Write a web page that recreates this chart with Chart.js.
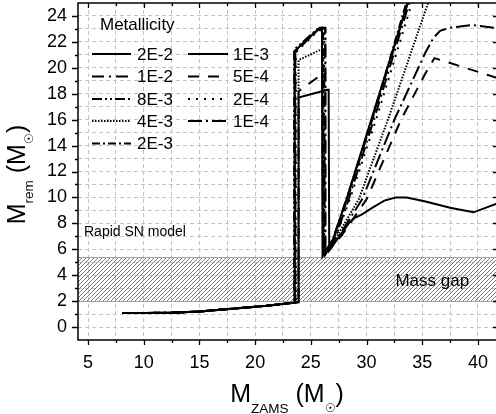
<!DOCTYPE html>
<html>
<head>
<meta charset="utf-8">
<style>
  html, body { margin: 0; padding: 0; background: #fff; overflow: hidden; }
  #wrap { width: 496px; height: 414px; overflow: hidden; }
</style>
</head>
<body>
<div id="wrap"><canvas id="remChart" width="500" height="414"></canvas></div>
<script src="https://cdn.jsdelivr.net/npm/chart.js"></script>
<script>
// Remnant mass vs ZAMS mass for several metallicities (rapid SN model)

const FONT = '"Liberation Sans", Arial, Helvetica, sans-serif';

// low-mass branch, shared by every metallicity
const lowMz = [8.1, 12.5, 15, 18, 21, 23.5];
const lowMr = [1.08, 1.1, 1.2, 1.42, 1.64, 1.88];

const z2e2Mz = [...lowMz, 23.9, 23.9, 26.5, 26.6, 26.65, 27.4, 28.4, 28.9, 29.6, 30.5, 31.6, 32.6, 33.6, 35.2, 37.5, 39.6, 41.8];
const z2e2Mr = [...lowMr, 1.9, 17.7, 18.3, 18.3, 5.9, 6.8, 8.0, 8.4, 8.7, 9.2, 9.75, 10.0, 10.0, 9.7, 9.2, 8.85, 9.55];

const z1e2Mz = [...lowMz, 23.6, 23.6, 25.7, 26.3, 26.3, 27.2, 28.4, 30.8, 33.9, 34.3];
const z1e2Mr = [...lowMr, 1.9, 21.2, 23.0, 23.05, 5.6, 6.9, 9.85, 16.4, 25.2, 26.3];

const z8e3Mz = [...lowMz, 23.5, 23.5, 25.6, 26.0, 26.1, 27.0, 28.2, 30.7, 33.8, 34.2];
const z8e3Mr = [...lowMr, 1.88, 21.4, 23.0, 23.0, 5.5, 6.8, 9.9, 16.5, 25.3, 26.4];

const z4e3Mz = [...lowMz, 23.9, 23.9, 25.9, 26.0, 26.1, 27.2, 29.3, 32.0, 35.6, 35.9];
const z4e3Mr = [...lowMr, 1.9, 20.6, 21.4, 21.4, 5.5, 6.8, 9.85, 16.2, 25.2, 25.9];

const z2e3Mz = [...lowMz, 23.55, 23.55, 25.6, 26.1, 26.15, 27.1, 28.3, 30.7, 33.7, 34.1];
const z2e3Mr = [...lowMr, 1.89, 21.3, 22.9, 23.0, 5.5, 6.9, 9.9, 16.6, 25.4, 26.5];

const z1e3Mz = [...lowMz, 23.55, 23.55, 25.7, 26.0, 26.05, 27.0, 28.2, 30.6, 33.8, 34.2];
const z1e3Mr = [...lowMr, 1.89, 21.3, 23.0, 23.1, 5.45, 6.8, 9.85, 16.5, 25.3, 26.4];

const z5e4Mz = [...lowMz, 23.9, 23.9, 26.0, 26.2, 26.25, 27.8, 30.0, 33.1, 35.3, 36.1, 41.8];
const z5e4Mr = [...lowMr, 1.9, 18.2, 19.5, 19.5, 5.6, 7.1, 9.85, 16.0, 19.6, 20.75, 19.2];

const z2e4Mz = [...lowMz, 23.65, 23.65, 25.7, 26.2, 26.2, 27.2, 28.5, 31.0, 34.1, 34.5];
const z2e4Mr = [...lowMr, 1.9, 21.2, 22.9, 22.9, 5.6, 6.9, 9.85, 16.4, 25.1, 26.2];

const z1e4Mz = [...lowMz, 23.6, 23.6, 25.8, 26.3, 26.3, 27.5, 29.6, 32.5, 35.3, 36.0, 36.6, 37.5, 39.5, 41.8];
const z1e4Mr = [...lowMr, 1.9, 21.3, 23.1, 23.1, 5.6, 7.0, 9.85, 16.0, 21.2, 22.3, 22.85, 23.1, 23.3, 23.05];

// pair-instability mass gap band
const gapLow = 2;
const gapHigh = 5.4;

const xTickVals = [5, 7.5, 10, 12.5, 15, 17.5, 20, 22.5, 25, 27.5, 30, 32.5, 35, 37.5, 40];
const yTickVals = [-1, 0, 1, 2, 3, 4, 5, 6, 7, 8, 9, 10, 11, 12, 13, 14, 15, 16, 17, 18, 19, 20, 21, 22, 23, 24, 25];

// legend: column, row, label, mz, mr, dash
const series = [
    {col: 0, row: 0, label: '2E-2', mz: z2e2Mz, mr: z2e2Mr, dash: []},
    {col: 0, row: 1, label: '1E-2', mz: z1e2Mz, mr: z1e2Mr, dash: [12, 5, 2, 5]},
    {col: 0, row: 2, label: '8E-3', mz: z8e3Mz, mr: z8e3Mr, dash: [10, 3, 2, 3, 2, 3]},
    {col: 0, row: 3, label: '4E-3', mz: z4e3Mz, mr: z4e3Mr, dash: [1.5, 1.5]},
    {col: 0, row: 4, label: '2E-3', mz: z2e3Mz, mr: z2e3Mr, dash: [8, 3, 2, 3]},
    {col: 1, row: 0, label: '1E-3', mz: z1e3Mz, mr: z1e3Mr, dash: []},
    {col: 1, row: 1, label: '5E-4', mz: z5e4Mz, mr: z5e4Mr, dash: [11, 9]},
    {col: 1, row: 2, label: '2E-4', mz: z2e4Mz, mr: z2e4Mr, dash: [2, 6]},
    {col: 1, row: 3, label: '1E-4', mz: z1e4Mz, mr: z1e4Mr, dash: [14, 4, 2, 4]}
];

// hatch tile for the mass gap
const hatchTile = (() => {
    const c = document.createElement('canvas');
    c.width = 4; c.height = 4;
    const g = c.getContext('2d');
    g.strokeStyle = '#7a7a7a';
    g.lineWidth = 1;
    g.beginPath();
    g.moveTo(0, 4); g.lineTo(4, 0);
    g.moveTo(-1, 1); g.lineTo(1, -1);
    g.moveTo(3, 5); g.lineTo(5, 3);
    g.stroke();
    return c;
})();

const massGapPlugin = {
    id: 'massGap',
    beforeDatasetsDraw(chart) {
        const {ctx, chartArea, scales: {y}} = chart;
        const top = y.getPixelForValue(gapHigh);
        const bot = y.getPixelForValue(gapLow);
        ctx.save();
        ctx.fillStyle = ctx.createPattern(hatchTile, 'repeat');
        ctx.fillRect(chartArea.left, top, chartArea.right - chartArea.left, bot - top);
        ctx.strokeStyle = '#a0a0a0';
        ctx.lineWidth = 1;
        ctx.beginPath();
        ctx.moveTo(chartArea.left, Math.round(top) + 0.5);
        ctx.lineTo(chartArea.right, Math.round(top) + 0.5);
        ctx.moveTo(chartArea.left, Math.round(bot) + 0.5);
        ctx.lineTo(chartArea.right, Math.round(bot) + 0.5);
        ctx.stroke();
        ctx.restore();
    },
    afterDatasetsDraw(chart) {
        const {ctx, scales: {x, y}} = chart;
        ctx.save();
        ctx.fillStyle = '#000';
        ctx.textBaseline = 'middle';
        ctx.font = '17px ' + FONT;
        ctx.textAlign = 'center';
        ctx.fillText('Mass gap', x.getPixelForValue(35.9), y.getPixelForValue(3.55));
        ctx.font = '14px ' + FONT;
        ctx.textAlign = 'left';
        ctx.fillText('Rapid SN model', 84, 232);
        ctx.restore();
    }
};

// frame and tick marks (outward on left/bottom, inward on top/right)
const framePlugin = {
    id: 'frame',
    afterDraw(chart) {
        const {ctx, chartArea: a, scales: {x, y}} = chart;
        ctx.save();
        ctx.strokeStyle = '#000';
        ctx.lineWidth = 1.5;
        ctx.strokeRect(a.left, a.top, a.right - a.left, a.bottom - a.top);
        ctx.lineWidth = 1.3;
        ctx.beginPath();
        xTickVals.forEach(v => {
            const px = Math.round(x.getPixelForValue(v)) + 0.5;
            const len = v % 5 === 0 ? 5 : 3;
            ctx.moveTo(px, a.bottom); ctx.lineTo(px, a.bottom + len);
            ctx.moveTo(px, a.top); ctx.lineTo(px, a.top + len);
        });
        yTickVals.forEach(v => {
            if (v < 0 || v > 24) return;
            const py = Math.round(y.getPixelForValue(v)) + 0.5;
            const len = v % 2 === 0 ? 6 : 3;
            ctx.moveTo(a.left, py); ctx.lineTo(a.left - len, py);
            if (v % 2 === 0) {
                ctx.moveTo(a.right, py); ctx.lineTo(a.right - 5, py);
            }
        });
        ctx.stroke();
        ctx.restore();
    }
};

// two-column legend in the top-left corner
const legendPlugin = {
    id: 'metalLegend',
    afterDraw(chart) {
        const ctx = chart.ctx;
        const colLine = [[92, 131], [188, 228]];
        const colText = [137, 233];
        const rowY = [54, 76.5, 99, 121, 143.5];
        ctx.save();
        ctx.fillStyle = '#000';
        ctx.textBaseline = 'middle';
        ctx.textAlign = 'left';
        ctx.font = '17px ' + FONT;
        ctx.fillText('Metallicity', 100, 25);
        series.forEach(s => {
            const yy = rowY[s.row];
            ctx.strokeStyle = '#000';
            ctx.lineWidth = 2;
            ctx.setLineDash(s.dash);
            ctx.beginPath();
            ctx.moveTo(colLine[s.col][0], yy);
            ctx.lineTo(colLine[s.col][1], yy);
            ctx.stroke();
            ctx.setLineDash([]);
            ctx.fillText(s.label, colText[s.col], yy + 1);
        });
        ctx.restore();
    }
};

// axis titles with subscripts
function drawRich(ctx, parts, cx, baseY, angle) {
    ctx.save();
    ctx.translate(cx, baseY);
    ctx.rotate(angle);
    let total = 0;
    parts.forEach(p => {
        ctx.font = p.size + 'px ' + FONT;
        p.w = ctx.measureText(p.t).width;
        total += p.w;
    });
    let xx = -total / 2;
    ctx.fillStyle = '#000';
    ctx.textBaseline = 'alphabetic';
    ctx.textAlign = 'left';
    parts.forEach(p => {
        ctx.font = p.size + 'px ' + FONT;
        ctx.fillText(p.t, xx, p.dy || 0);
        xx += p.w;
    });
    ctx.restore();
}

const titlePlugin = {
    id: 'axisTitles',
    afterDraw(chart) {
        const {ctx, chartArea: a} = chart;
        drawRich(ctx, [
            {t: 'M', size: 25}, {t: 'ZAMS', size: 13.5, dy: 11},
            {t: ' (M', size: 25}, {t: '\u2609', size: 12, dy: 10}, {t: ')', size: 25}
        ], (a.left + 496) / 2, 402, 0);
        drawRich(ctx, [
            {t: 'M', size: 25}, {t: 'rem', size: 13.5, dy: 8},
            {t: ' (M', size: 25}, {t: '\u2609', size: 12, dy: 8}, {t: ')', size: 25}
        ], 25, (a.top + a.bottom) / 2 + 3, -Math.PI / 2);
    }
};

Chart.defaults.color = '#000';
Chart.defaults.font.family = FONT;

const remCtx = document.getElementById('remChart').getContext('2d');
const remChart = new Chart(remCtx, {
    type: 'line',
    data: {
        datasets: series.map(s => ({
            label: s.label,
            data: s.mz.map((m, i) => ({x: m, y: s.mr[i]})),
            borderColor: '#000',
            borderWidth: 2,
            borderDash: s.dash,
            pointRadius: 0,
            fill: false,
            tension: 0
        }))
    },
    options: {
        responsive: false,
        animation: false,
        layout: {padding: {top: 3, right: 2, left: 0, bottom: 0}},
        plugins: {
            legend: {display: false},
            tooltip: {enabled: false}
        },
        scales: {
            x: {
                type: 'linear',
                min: 4.1,
                max: 41.8,
                afterBuildTicks: s => { s.ticks = xTickVals.map(v => ({value: v})); },
                afterFit: s => {
                    s.height = 74;
                    s.paddingLeft = 0; s.paddingRight = 0;
                },
                ticks: {
                    autoSkip: false,
                    maxRotation: 0,
                    padding: 12,
                    font: {size: 18},
                    callback: v => (v % 5 === 0 ? String(v) : '')
                },
                grid: {color: '#c4c4c4', lineWidth: 1, drawTicks: false},
                border: {display: false, dash: [4, 3]}
            },
            y: {
                type: 'linear',
                min: -1,
                max: 25,
                afterBuildTicks: s => { s.ticks = yTickVals.map(v => ({value: v})); },
                afterFit: s => {
                    s.width = 78;
                    s.paddingTop = 0; s.paddingBottom = 0;
                },
                ticks: {
                    autoSkip: false,
                    padding: 11,
                    font: {size: 18},
                    callback: v => (v >= 0 && v <= 24 && v % 2 === 0 ? String(v) : '')
                },
                grid: {
                    color: c => (c.tick && (c.tick.value < 0 || c.tick.value > 24) ? 'rgba(0,0,0,0)' : '#c4c4c4'),
                    lineWidth: 1,
                    drawTicks: false
                },
                border: {display: false, dash: [4, 3]}
            }
        }
    },
    plugins: [massGapPlugin, framePlugin, legendPlugin, titlePlugin]
});
</script>
</body>
</html>
